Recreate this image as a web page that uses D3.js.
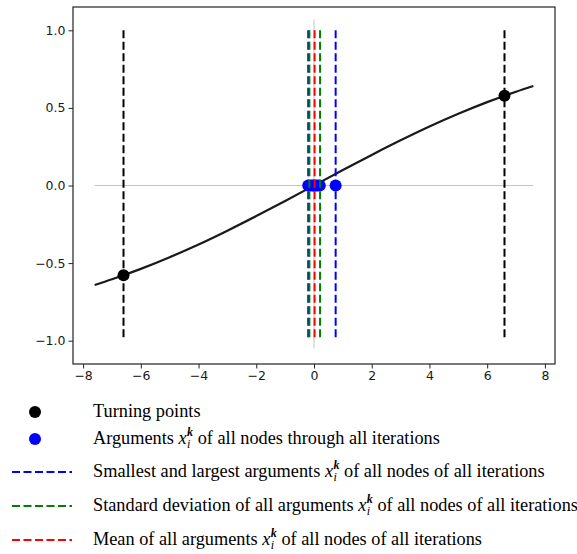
<!DOCTYPE html>
<html>
<head>
<meta charset="utf-8">
<script src="https://cdn.jsdelivr.net/npm/d3@7"></script>
<style>
  body { margin: 0; background: #fff; }
  svg { display: block; }
  text { white-space: pre; }
</style>
</head>
<body>
<svg id="chart" width="577" height="554"></svg>
<script>
// curve
var curveX = [-7.6, -7, -6, -5, -4, -3, -2, -1, 0, 1, 2, 3, 4, 5, 6, 7, 7.6];
var curveY = [-0.641, -0.604, -0.537, -0.462, -0.380, -0.291, -0.197, -0.100, 0,
  0.100, 0.197, 0.291, 0.380, 0.462, 0.537, 0.604, 0.641];

var turningX = [-6.6, 6.6];
var turningY = [-0.578, 0.578];

// arguments of nodes (all on y = 0)
var argX = [-0.2, -0.12, -0.05, 0, 0.05, 0.12, 0.2, 0.75];

var minMaxX = [-0.2, 0.75];
var stdX = [-0.16, 0.21];
var meanX = [0.02];

var xTicks = [-8, -6, -4, -2, 0, 2, 4, 6, 8];
var yTicks = [-1.0, -0.5, 0.0, 0.5, 1.0];

var legendLabels = [
  "Turning points",
  "Arguments # of all nodes through all iterations",
  "Smallest and largest arguments # of all nodes of all iterations",
  "Standard deviation of all arguments # of all nodes of all iterations",
  "Mean of all arguments # of all nodes of all iterations"
];

function draw() {
  var svg = d3.select("#chart"),
    mLeft = 73, mRight = 555, mTop = 7, mBottom = 364;

  var x = d3.scaleLinear().domain([-8.35, 8.35]).range([mLeft, mRight]);
  var y = d3.scaleLinear().domain([-1.15, 1.15]).range([mBottom, mTop]);

  var dash = "8,3.5";

  // axes
  svg.append("g")
    .attr("transform", "translate(0," + mBottom + ")")
    .call(d3.axisBottom(x).tickValues(xTicks).tickSize(4.5).tickPadding(3)
      .tickFormat(function(d) { return d < 0 ? "\u2212" + Math.abs(d) : d; }))
    .call(function(g) {
      g.select(".domain").remove();
      g.selectAll("text").attr("font-family", "DejaVu Sans").attr("font-size", 12.5).attr("fill", "#1a1a1a");
      g.selectAll("line").attr("stroke", "#222").attr("stroke-width", 1);
    });

  svg.append("g")
    .attr("transform", "translate(" + mLeft + ",0)")
    .call(d3.axisLeft(y).tickValues(yTicks).tickSize(4.5).tickPadding(3)
      .tickFormat(function(d) { var s = d3.format(".1f")(Math.abs(d)); return d < 0 ? "\u2212" + s : s; }))
    .call(function(g) {
      g.select(".domain").remove();
      g.selectAll("text").attr("font-family", "DejaVu Sans").attr("font-size", 12.5).attr("fill", "#1a1a1a");
      g.selectAll("line").attr("stroke", "#222").attr("stroke-width", 1);
    });

  // gray reference lines
  svg.append("line")
    .attr("x1", x(curveX[0])).attr("x2", x(curveX[curveX.length - 1]))
    .attr("y1", y(0)).attr("y2", y(0))
    .attr("stroke", "#c4c4c4").attr("stroke-width", 1);
  svg.append("line")
    .attr("x1", x(0)).attr("x2", x(0))
    .attr("y1", y(1.07)).attr("y2", y(-1.05))
    .attr("stroke", "#c4c4c4").attr("stroke-width", 1);

  // curve
  var line = d3.line()
    .x(function(d, i) { return x(curveX[i]); })
    .y(function(d) { return y(d); })
    .curve(d3.curveMonotoneX);
  svg.append("path")
    .datum(curveY)
    .attr("fill", "none")
    .attr("stroke", "#1a1a1a")
    .attr("stroke-width", 2.2)
    .attr("d", line);

  // points
  svg.selectAll(".arg").data(argX).enter().append("circle")
    .attr("cx", function(d) { return x(d); })
    .attr("cy", y(0))
    .attr("r", 6)
    .attr("fill", "#0000ff");

  svg.selectAll(".turn").data(turningX).enter().append("circle")
    .attr("cx", function(d) { return x(d); })
    .attr("cy", function(d, i) { return y(turningY[i]); })
    .attr("r", 6)
    .attr("fill", "#000");

  // dashed vertical lines
  function vlines(data, color) {
    svg.selectAll(null).data(data).enter().append("line")
      .attr("x1", function(d) { return x(d); })
      .attr("x2", function(d) { return x(d); })
      .attr("y1", y(1)).attr("y2", y(-1))
      .attr("stroke", color)
      .attr("stroke-width", 2)
      .attr("stroke-dasharray", dash);
  }
  vlines(turningX, "#000");
  vlines(minMaxX, "#0000ff");
  vlines(stdX, "#008000");
  vlines(meanX, "#ff0000");

  // frame
  svg.append("rect")
    .attr("x", mLeft).attr("y", mTop)
    .attr("width", mRight - mLeft).attr("height", mBottom - mTop)
    .attr("fill", "none").attr("stroke", "#222").attr("stroke-width", 1.2);

  // legend
  var legendY = [412, 439, 472, 506, 540];
  var legendKind = ["dotk", "dotb", "#0000ff", "#008000", "#ff0000"];
  var textX = 93, fs = 18.3;

  legendLabels.forEach(function(label, i) {
    var cy = legendY[i];
    var k = legendKind[i];
    if (k === "dotk" || k === "dotb") {
      svg.append("circle").attr("cx", 35).attr("cy", cy).attr("r", 6)
        .attr("fill", k === "dotk" ? "#000" : "#0000ff");
    } else {
      svg.append("line").attr("x1", 12).attr("x2", 72).attr("y1", cy).attr("y2", cy)
        .attr("stroke", k).attr("stroke-width", 2).attr("stroke-dasharray", dash);
    }

    var base = cy + 5;
    var parts = label.split("#");
    var t1 = svg.append("text").attr("x", textX).attr("y", base)
      .attr("font-family", "Liberation Serif").attr("font-size", fs).attr("fill", "#000")
      .text(parts[0]);
    if (parts.length > 1) {
      var cx = textX + t1.node().getComputedTextLength();
      var tx = svg.append("text").attr("x", cx).attr("y", base)
        .attr("font-family", "Liberation Serif").attr("font-style", "italic")
        .attr("font-size", fs).text("x");
      cx += tx.node().getComputedTextLength() + 0.5;
      var tk = svg.append("text").attr("x", cx).attr("y", base - 8)
        .attr("font-family", "Liberation Serif").attr("font-style", "italic")
        .attr("font-weight", "bold").attr("font-size", 12).text("k");
      var ti = svg.append("text").attr("x", cx).attr("y", base + 4)
        .attr("font-family", "Liberation Serif").attr("font-style", "italic")
        .attr("font-size", 12).text("i");
      cx += Math.max(tk.node().getComputedTextLength(), ti.node().getComputedTextLength());
      svg.append("text").attr("x", cx).attr("y", base)
        .attr("font-family", "Liberation Serif").attr("font-size", fs).attr("fill", "#000")
        .text(parts[1]);
    }
  });
}

draw();
</script>
</body>
</html>
